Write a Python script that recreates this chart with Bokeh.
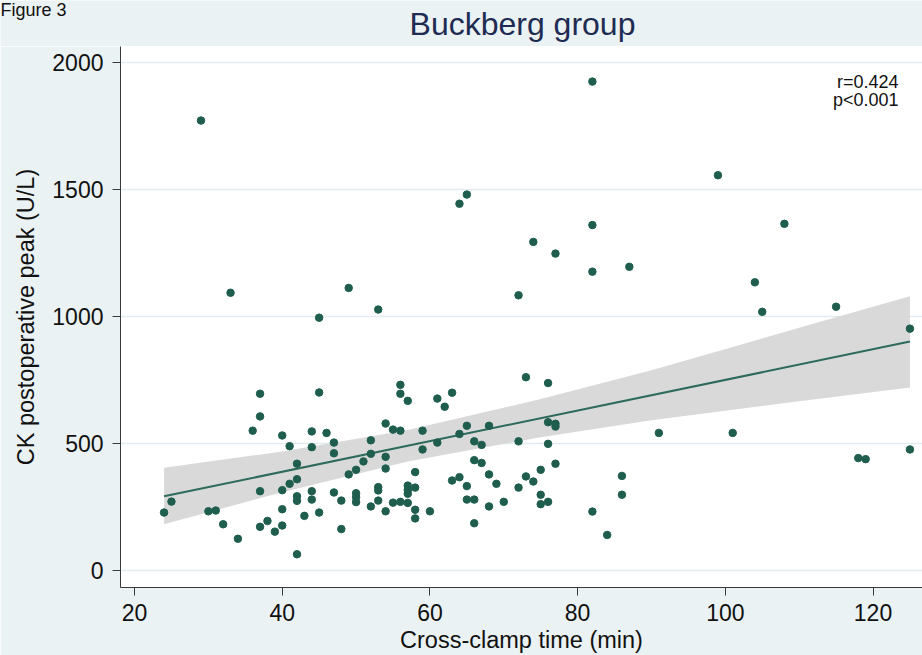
from bokeh.plotting import figure
from bokeh.models import Range1d, FixedTicker, Label
from bokeh.layouts import column, row
from bokeh.embed import file_html
from bokeh.resources import INLINE

# ---- data ----
clamp_min = [29, 33, 45, 49, 53, 64, 65, 72, 82, 99, 74, 82, 77, 82, 87, 108, 104, 105, 115, 125,
             91, 101, 118, 119, 125,
             24, 25, 30, 31, 32, 34, 36, 37, 37, 37, 37, 38, 39, 40, 40, 40, 40, 41, 41, 42,
             42, 42, 42, 42, 43, 44, 44, 44, 44, 45, 45, 46, 47, 47, 47, 48, 48, 49, 50, 50,
             50, 50, 51, 52, 52, 52, 53, 53, 53, 54, 54, 54, 54, 55, 55,
             56, 56, 57, 56, 59, 59, 61, 62, 63, 61, 64, 65, 66, 67, 68, 66, 67, 68, 69, 63,
             64, 65, 65, 66, 68, 70, 66, 58, 57, 57, 58, 57, 56, 57, 58, 60, 58, 72, 73, 76,
             76, 77, 77, 76, 77, 75, 73, 74, 72, 75, 75, 76, 82, 84, 86, 86]
ck_peak = [1770, 1093, 995, 1112, 1027, 1443, 1479, 1083, 1923, 1555, 1293, 1359, 1247, 1176, 1195, 1364, 1134, 1018, 1038, 952,
           542, 542, 443, 439, 477,
           229, 272, 234, 237, 183, 126, 551, 696, 607, 313, 173, 196, 154, 532, 317, 242, 178, 490, 342, 421,
           360, 293, 275, 65, 216, 548, 486, 313, 280, 701, 229, 542, 504, 462, 308, 276, 164, 379, 397, 305,
           289, 270, 430, 513, 460, 253, 329, 316, 276, 579, 448, 402, 234, 555, 268,
           731, 696, 668, 551, 551, 477, 677, 645, 700, 504, 538, 570, 509, 495, 570, 435, 424, 379, 342, 355,
           368, 333, 280, 280, 253, 271, 187, 388, 335, 318, 327, 303, 271, 267, 240, 234, 206, 509, 761, 738,
           584, 578, 567, 499, 421, 397, 371, 351, 327, 299, 262, 271, 233, 141, 373, 299]

# linear fit and 95% CI band
fit_x = [24, 125]
fit_y = [293, 901]
band_x = [24, 40, 57, 75, 90, 110, 125]
band_lo = [183, 309, 430, 525, 592, 667, 721]
band_hi = [405, 469, 554, 675, 788, 955, 1079]

x_ticks = [20, 40, 60, 80, 100, 120]
y_ticks = [0, 500, 1000, 1500, 2000]

title_text = "Buckberg group"
x_label = "Cross-clamp time (min)"
y_label = "CK postoperative peak (U/L)"
stat_lines = ["r=0.424", "p<0.001"]
fig_label = "Figure 3"

# ---- style ----
BG = "#EAF2F3"
GRID = "#E2EBED"
MARK = "#1F5E4E"
LINE = "#2C6B5B"
BAND = "#D9D9D9"
FONT = "Liberation Sans"
W = 922

# ---- heading strip (figure label and title) ----
head = figure(width=W, height=46, output_backend="svg", toolbar_location=None,
              x_range=Range1d(0, W), y_range=Range1d(0, 46),
              x_axis_location=None, y_axis_location=None, min_border=0)
head.background_fill_color = BG
head.border_fill_color = BG
head.outline_line_color = None
head.grid.grid_line_color = None
head.add_layout(Label(x=0, y=36.4, text=fig_label, text_align="left",
                      text_baseline="alphabetic", text_font=FONT, text_font_size="18px",
                      text_color="#111111"))
head.add_layout(Label(x=522, y=22.6, text=title_text, text_align="center",
                      text_baseline="alphabetic", text_font=FONT, text_font_size="32px",
                      text_color="#1E2B52"))

# ---- main plot ----
p = figure(width=W, height=609, output_backend="svg", toolbar_location=None,
           x_range=Range1d(18.1, 126.7), y_range=Range1d(-65.6, 2061),
           min_border_left=120, min_border_right=0, min_border_top=0, min_border_bottom=68)
p.background_fill_color = "white"
p.border_fill_color = BG
p.outline_line_color = None

p.xaxis.ticker = FixedTicker(ticks=x_ticks)
p.yaxis.ticker = FixedTicker(ticks=y_ticks)
for ax in (p.xaxis, p.yaxis):
    ax.axis_line_color = "#3a3a3a"
    ax.axis_line_width = 1
    ax.major_tick_line_color = "#3a3a3a"
    ax.major_tick_out = 8
    ax.major_tick_in = 0
    ax.minor_tick_line_color = None
    ax.major_label_text_font = FONT
    ax.major_label_text_font_size = "23px"
    ax.major_label_text_color = "#111111"
    ax.axis_label_text_font = FONT
    ax.axis_label_text_font_size = "23.5px"
    ax.axis_label_text_font_style = "normal"
    ax.axis_label_text_color = "#111111"
p.xaxis.major_label_standoff = 8
p.xaxis.axis_label = x_label
p.xaxis.axis_label_standoff = 3
p.yaxis.major_label_standoff = 9
p.yaxis.axis_label = y_label
p.yaxis.axis_label_standoff = 10

p.xgrid.grid_line_color = None
p.ygrid.grid_line_color = GRID
p.ygrid.grid_line_width = 1.5

p.varea(x=band_x, y1=band_lo, y2=band_hi, fill_color=BAND, fill_alpha=1.0)
p.line(fit_x, fit_y, line_color=LINE, line_width=2)
p.scatter(clamp_min, ck_peak, size=7.5, fill_color=MARK, line_color=MARK)

p.add_layout(Label(x=123.45, y=1922, text=stat_lines[0], text_align="right",
                   text_baseline="alphabetic", text_font=FONT, text_font_size="18px",
                   text_color="#111111"))
p.add_layout(Label(x=123.45, y=1850, text=stat_lines[1], text_align="right",
                   text_baseline="alphabetic", text_font=FONT, text_font_size="18px",
                   text_color="#111111"))

layout = column(row(head), p, spacing=0)
open("out.html", "w").write(file_html(layout, INLINE))
